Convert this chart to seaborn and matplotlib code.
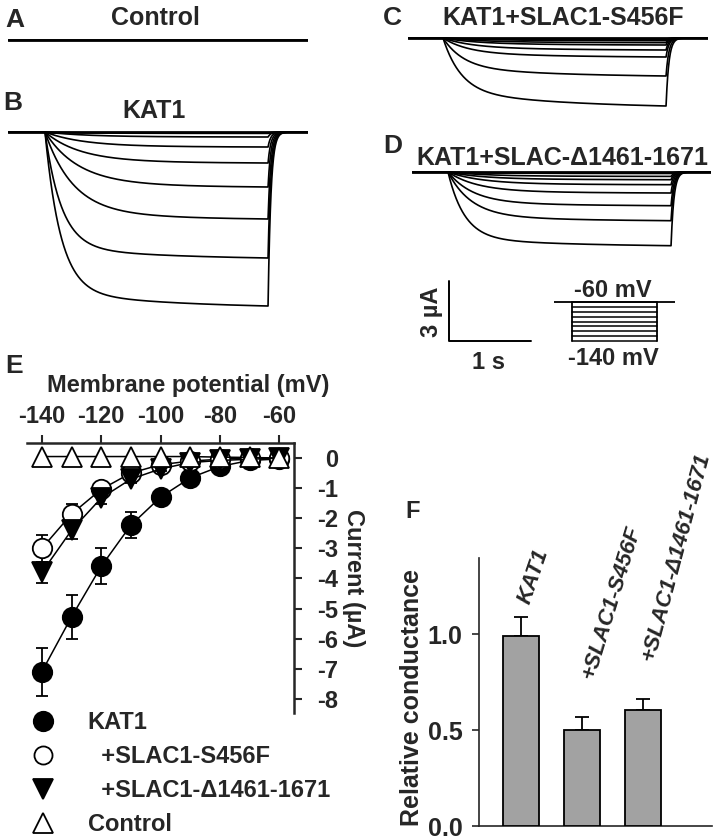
import numpy as np
import pandas as pd
import matplotlib
matplotlib.use("Agg")
import matplotlib.pyplot as plt
import seaborn as sns
from matplotlib.lines import Line2D

# ------------------------------------------------------------------ data
# Panel E: current-voltage relation (uA)
voltages = [-140, -130, -120, -110, -100, -90, -80, -70, -60]
volt_ticks = [-140, -120, -100, -80, -60]
volt_tick_labels = ["-140", "-120", "-100", "-80", "-60"]
current_ticks = [0, -1, -2, -3, -4, -5, -6, -7, -8]
current_tick_labels = ["0", "-1", "-2", "-3", "-4", "-5", "-6", "-7", "-8"]

kat1_mean = [-7.1, -5.28, -3.6, -2.23, -1.3, -0.66, -0.28, -0.08, -0.03]
kat1_err = [0.8, 0.72, 0.6, 0.43, 0.22, 0.1, 0.06, 0.04, 0.03]
s456f_mean = [-3.0, -1.86, -1.04, -0.5, -0.22, -0.1, -0.04, 0.0, 0.0]
s456f_err = [0.45, 0.35, 0.15, 0.1, 0.06, 0.04, 0.03, 0.02, 0.02]
d1461_mean = [-3.8, -2.4, -1.33, -0.7, -0.36, -0.15, -0.08, -0.04, 0.0]
d1461_err = [0.35, 0.3, 0.2, 0.12, 0.08, 0.05, 0.03, 0.02, 0.02]
control_mean = [0.05, 0.05, 0.05, 0.05, 0.05, 0.05, 0.03, 0.02, 0.0]

# Panel F: relative conductance
groups = ["KAT1", "+SLAC1-S456F", "+SLAC1-\u03941461-1671"]
conductance = [0.99, 0.50, 0.605]
conductance_err = [0.10, 0.07, 0.055]
cond_ticks = [0.0, 0.5, 1.0]
cond_tick_labels = ["0.0", "0.5", "1.0"]

# Panels A-D: steady-state current at end of pulse (uA) and activation time constants (s)
pulse_dur = 2.72
ctrl_amp = [0.0]
ctrl_tau = [0.3]
kat1_amp = [0.07, 0.25, 0.75, 1.55, 2.75, 4.35, 6.3, 8.7]
kat1_tau = [0.5, 0.5, 0.45, 0.42, 0.4, 0.34, 0.2, 0.19]
s456_amp = [0.065, 0.135, 0.235, 0.35, 0.6, 0.95, 1.9, 3.4]
s456_tau = [0.5, 0.5, 0.45, 0.4, 0.35, 0.3, 0.25, 0.22]
d146_amp = [0.075, 0.22, 0.385, 0.635, 1.05, 1.685, 2.435, 3.685]
d146_tau = [0.5, 0.45, 0.42, 0.4, 0.35, 0.3, 0.28, 0.2]

# scale bar and protocol
scale_current = 3.0   # uA
scale_time = 1.0      # s
protocol_mV = [-60, -70, -80, -90, -100, -110, -120, -130, -140]

# ------------------------------------------------------------------ style
sns.set_theme(style="ticks")
plt.rcParams["font.family"] = ["Liberation Sans", "DejaVu Sans"]
plt.rcParams["font.weight"] = "bold"
plt.rcParams["axes.labelweight"] = "bold"
plt.rcParams["font.size"] = 17

W, H, DPI = 721, 839, 100
fig = plt.figure(figsize=(W / DPI, H / DPI), dpi=DPI)
fig.patch.set_facecolor("white")


def px_axes(x0, y0, x1, y1):
    ax = fig.add_axes([x0 / W, 1 - y1 / H, (x1 - x0) / W, (y1 - y0) / H])
    ax.set_facecolor("none")
    return ax


def ftext(x, y, s, **kw):
    kw.setdefault("fontsize", 17)
    kw.setdefault("fontweight", "bold")
    return fig.text(x / W, 1 - y / H, s, **kw)


PX_PER_S = 82.0
PX_PER_UA = 20.0


def trace_panel(x0, x1, t0px, base_y, y0, y1, amps, taus, slow_frac, tau_slow):
    ax = px_axes(x0, y0, x1, y1)
    tmin = (x0 - t0px) / PX_PER_S
    tmax = (x1 - t0px) / PX_PER_S
    t = np.unique(np.concatenate([np.linspace(tmin, tmax, 1600), [0.0, pulse_dur]]))
    rows = []
    tt = np.clip(t, 0, None)
    for k, (a, tau) in enumerate(zip(amps, taus)):
        act = (1 - slow_frac) * (1 - np.exp(-tt / tau)) + slow_frac * (1 - np.exp(-tt / tau_slow))
        actT = (1 - slow_frac) * (1 - np.exp(-pulse_dur / tau)) + slow_frac * (1 - np.exp(-pulse_dur / tau_slow))
        tail = np.exp(-np.clip(t - pulse_dur, 0, None) / 0.035)
        cur = np.where(t < 0, 0.0, np.where(t <= pulse_dur, -a * act / actT, -a * tail))
        rows.append(pd.DataFrame({"t": t, "I": cur, "trace": k}))
    df = pd.concat(rows)
    sns.lineplot(data=df, x="t", y="I", units="trace", estimator=None, color="black",
                 lw=1.2, ax=ax, legend=False)
    # baseline
    sns.lineplot(x=[tmin, tmax], y=[0, 0], color="black", lw=2.0, ax=ax, legend=False)
    ax.set_xlim(tmin, tmax)
    ax.set_ylim((base_y - y1) / PX_PER_UA, (base_y - y0) / PX_PER_UA)
    ax.axis("off")
    return ax


# Panel A
trace_panel(8, 308, 45, 40, 30, 50, ctrl_amp, ctrl_tau, 0.0, 1.0)
# Panel B
trace_panel(8, 308, 45, 132, 122, 318, kat1_amp, kat1_tau, 0.1, 1.5)
# Panel C
trace_panel(408, 708, 443, 38, 30, 115, s456_amp, s456_tau, 0.25, 1.5)
# Panel D
trace_panel(412, 711, 448, 172, 164, 255, d146_amp, d146_tau, 0.12, 1.5)

# scale bar (same scale as traces)
axs = px_axes(440, 270, 540, 350)
sx0 = 449
axs.set_xlim((440 - sx0) / PX_PER_S, (540 - sx0) / PX_PER_S)
axs.set_ylim(-(350 - 341) / PX_PER_UA, (341 - 270) / PX_PER_UA)
axs.plot([0, 0, scale_time], [scale_current, 0, 0], color="black", lw=1.4)
axs.axis("off")

# protocol
axp = px_axes(554, 296, 675, 346)
axp.set_xlim(0, 121)
axp.set_ylim(-60 - (346 - 302) * 80 / 39, -60 + (302 - 296) * 80 / 39)
axp.plot([0, 121], [protocol_mV[0], protocol_mV[0]], color="black", lw=1.3)
for v in protocol_mV:
    axp.plot([18, 103], [v, v], color="black", lw=1.1)
axp.plot([18, 18], [protocol_mV[0], protocol_mV[-1]], color="black", lw=1.3)
axp.plot([103, 103], [protocol_mV[0], protocol_mV[-1]], color="black", lw=1.3)
axp.axis("off")

ftext(432, 312, "3 \u00b5A", rotation=90, ha="center", va="center")
ftext(488, 369, "1 s", ha="center", va="baseline")
ftext(613, 297, "-60 mV", ha="center", va="baseline")
ftext(613, 365, "-140 mV", ha="center", va="baseline")

# titles and panel letters
ftext(5, 27, "A", fontsize=19, va="baseline")
ftext(155, 25, "Control", fontsize=18, ha="center", va="baseline")
ftext(3, 110, "B", fontsize=19, va="baseline")
ftext(154, 118, "KAT1", fontsize=18, ha="center", va="baseline")
ftext(383, 25, "C", fontsize=19, va="baseline")
ftext(563, 25, "KAT1+SLAC1-S456F", fontsize=18, ha="center", va="baseline")
ftext(383, 153, "D", fontsize=19, va="baseline")
ftext(562, 165, "KAT1+SLAC-\u03941461-1671", fontsize=18, ha="center", va="baseline")
ftext(5, 373, "E", fontsize=19, va="baseline")
ftext(405, 518, "F", fontsize=17, va="baseline")

# ------------------------------------------------------------------ Panel E
axE = px_axes(27, 443, 294, 713)
series = [
    (kat1_mean, kat1_err, dict(marker="o", mfc="black", mec="black", ms=14), 3),
    (s456f_mean, s456f_err, dict(marker="o", mfc="white", mec="black", ms=14), 4),
    (d1461_mean, d1461_err, dict(marker="v", mfc="black", mec="black", ms=14), 5),
    (control_mean, None, dict(marker="^", mfc="white", mec="black", ms=15), 6),
]
for mean, err, mk, z in series:
    if err is not None:
        axE.errorbar(voltages, mean, yerr=err, fmt="none", ecolor="black", elinewidth=1.3,
                     capsize=4.5, capthick=1.3, zorder=z, clip_on=False)
    sns.lineplot(x=voltages, y=mean, color="black", lw=1.1, mew=1.3, ax=axE,
                 zorder=z, clip_on=False, legend=False, **mk)

axE.set_xlim(-145, -55)
axE.set_ylim(-8.47, 0.5)
axE.xaxis.tick_top()
axE.yaxis.tick_right()
axE.set_xticks(volt_ticks)
axE.set_xticklabels(volt_tick_labels, fontsize=17, fontweight="bold")
axE.set_yticks(current_ticks)
axE.set_yticklabels(current_tick_labels, fontsize=17, fontweight="bold", ha="right")
axE.tick_params(axis="x", direction="out", length=6, width=1.5, pad=5)
axE.tick_params(axis="y", direction="out", length=5.5, width=1.5, pad=26)
for s in ["left", "bottom"]:
    axE.spines[s].set_visible(False)
for s in ["top", "right"]:
    axE.spines[s].set_linewidth(1.8)
axE.set_xlabel("")
axE.set_ylabel("")
ftext(188, 392, "Membrane potential (mV)", ha="center", va="baseline")
ftext(353, 578, "Current (\u00b5A)", rotation=270, ha="center", va="center")

handles = [
    Line2D([], [], ls="none", marker="o", mfc="black", mec="black", ms=14, mew=1.3),
    Line2D([], [], ls="none", marker="o", mfc="white", mec="black", ms=13, mew=1.3),
    Line2D([], [], ls="none", marker="v", mfc="black", mec="black", ms=14, mew=1.3),
    Line2D([], [], ls="none", marker="^", mfc="white", mec="black", ms=14, mew=1.3),
]
labels = ["KAT1", "  +SLAC1-S456F", "  +SLAC1-\u03941461-1671", "Control"]
leg = axE.legend(handles, labels, loc="upper left", bbox_to_anchor=(31 / W, 1 - 711 / H),
                 bbox_transform=fig.transFigure, frameon=False, borderpad=0, borderaxespad=0,
                 handlelength=1.0, handletextpad=1.4, labelspacing=0.47,
                 prop=dict(size=17, weight="bold"))

# ------------------------------------------------------------------ Panel F
axF = px_axes(479, 558, 712, 826)
sns.barplot(x=groups, y=conductance, color="#a2a2a2", saturation=1, width=0.6,
            edgecolor="black", linewidth=1.3, ax=axF, zorder=3)
axF.errorbar(range(len(groups)), conductance, yerr=[[0] * len(groups), conductance_err],
             fmt="none", ecolor="black", elinewidth=1.3, capsize=5, capthick=1.3, zorder=2)
axF.set_xlim(-0.69, 3.13)
axF.set_ylim(0, 1.396)
axF.set_xticks([])
axF.set_yticks(cond_ticks)
axF.set_yticklabels(cond_tick_labels, fontsize=18, fontweight="bold")
axF.tick_params(axis="y", direction="out", length=5, width=1.2, pad=7)
for s in ["top", "right"]:
    axF.spines[s].set_visible(False)
for s in ["left", "bottom"]:
    axF.spines[s].set_linewidth(1.2)
axF.set_xlabel("")
axF.set_ylabel("")
label_gap = [0.07, 0.2, 0.2]
label_dx = [0.05, 0.1, 0.08]
label_rot = [71, 73, 75]
for i, g in enumerate(groups):
    axF.text(i + label_dx[i], conductance[i] + conductance_err[i] + label_gap[i], g,
             rotation=label_rot[i], rotation_mode="anchor", ha="left", va="center",
             fontsize=16, fontweight="bold", fontstyle="italic")
ftext(412, 698, "Relative conductance", rotation=90, ha="center", va="center", fontsize=18)

fig.savefig("out.png", dpi=DPI, facecolor="white")
